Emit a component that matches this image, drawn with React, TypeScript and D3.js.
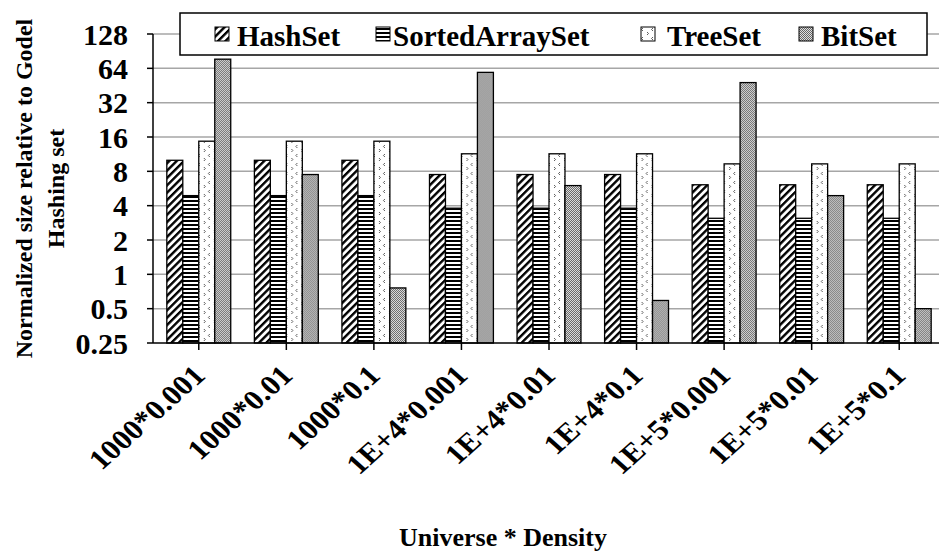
import React from "react";
import * as d3 from "d3";

const categories = [
  "1000*0.001",
  "1000*0.01",
  "1000*0.1",
  "1E+4*0.001",
  "1E+4*0.01",
  "1E+4*0.1",
  "1E+5*0.001",
  "1E+5*0.01",
  "1E+5*0.1",
];
const seriesNames = ["HashSet", "SortedArraySet", "TreeSet", "BitSet"];
const hashSet = [10, 10, 10, 7.5, 7.5, 7.5, 6.1, 6.1, 6.1];
const sortedArraySet = [4.9, 4.9, 4.9, 3.8, 3.8, 3.8, 3.1, 3.1, 3.1];
const treeSet = [14.7, 14.7, 14.7, 11.4, 11.4, 11.4, 9.3, 9.3, 9.3];
const bitSet = [77, 7.5, 0.76, 59, 6.0, 0.59, 48, 4.9, 0.5];
const yTicks = [0.25, 0.5, 1, 2, 4, 8, 16, 32, 64, 128];

const width = 939;
const height = 553;
const margin = { top: 34, left: 153, bottom: 343, right: 943 };
const font = "'Liberation Serif', 'Times New Roman', serif";
const patternIds = ["pHash", "pSorted", "pTree", "pBit"];

const App = () => {
  const values = [hashSet, sortedArraySet, treeSet, bitSet];

  const x = d3
    .scaleBand()
    .domain(categories)
    .range([margin.left + 2, margin.right])
    .paddingInner(0.27)
    .paddingOuter(0.135);

  const xInner = d3
    .scaleBand()
    .domain(seriesNames)
    .range([0, x.bandwidth()]);

  const y = d3
    .scaleLog()
    .base(2)
    .domain([0.25, 128])
    .range([margin.bottom, margin.top]);

  // legend layout (swatch x, text x)
  const legendItems = [
    { sx: 215, tx: 237 },
    { sx: 376, tx: 393 },
    { sx: 641, tx: 667 },
    { sx: 799, tx: 821 },
  ];

  return (
    <svg
      width={width}
      height={height}
      style={{ position: "absolute", left: 0, top: 0, background: "#fff" }}
      fontFamily={font}
      fontWeight="bold"
    >
      <defs>
        <pattern id="pHash" patternUnits="userSpaceOnUse" width={5.2} height={10} patternTransform="rotate(45)">
          <rect width={5.2} height={10} fill="#fff" />
          <rect width={2.4} height={10} fill="#000" />
        </pattern>
        <pattern id="pSorted" patternUnits="userSpaceOnUse" width={10} height={4}>
          <rect width={10} height={4} fill="#fff" />
          <rect width={10} height={2} fill="#000" />
        </pattern>
        <pattern id="pTree" patternUnits="userSpaceOnUse" width={10} height={9}>
          <rect width={10} height={9} fill="#fff" />
          <path d="M3,1 L1.5,2.5 L3,4" fill="none" stroke="#333" strokeWidth={0.8} />
          <path d="M7,5 L8.5,6.5 L7,8" fill="none" stroke="#333" strokeWidth={0.8} />
        </pattern>
        <pattern id="pBit" patternUnits="userSpaceOnUse" width={2} height={2}>
          <rect width={2} height={2} fill="#e0e0e0" />
          <rect width={1} height={1} fill="#666" />
          <rect x={1} y={1} width={1} height={1} fill="#666" />
        </pattern>
      </defs>

      {/* gridlines */}
      {yTicks.slice(1).map((t) => (
        <line
          key={t}
          x1={margin.left}
          x2={width}
          y1={y(t)}
          y2={y(t)}
          stroke="#a6a6a6"
          strokeWidth={1.5}
        />
      ))}

      {/* bars */}
      {categories.map((c, i) => (
        <g key={c} transform={`translate(${x(c)},0)`}>
          {seriesNames.map((s, j) => (
            <rect
              key={s}
              x={xInner(s)}
              y={y(values[j][i])}
              width={xInner.bandwidth()}
              height={y(0.25) - y(values[j][i])}
              fill={`url(#${patternIds[j]})`}
              stroke="#000"
              strokeWidth={1.3}
            />
          ))}
        </g>
      ))}

      {/* y axis */}
      <line x1={margin.left} x2={margin.left} y1={margin.top} y2={margin.bottom} stroke="#000" strokeWidth={1.5} />
      {yTicks.map((t) => (
        <g key={t} transform={`translate(0,${y(t)})`}>
          <line x1={margin.left - 6} x2={margin.left} stroke="#000" strokeWidth={1.5} />
          <text x={128} dy="0.35em" textAnchor="end" fontSize={30}>
            {t}
          </text>
        </g>
      ))}

      {/* x axis */}
      <line x1={margin.left} x2={width} y1={margin.bottom} y2={margin.bottom} stroke="#000" strokeWidth={1.5} />
      {categories.map((c) => {
        const cx = (x(c) as number) + x.bandwidth() / 2;
        return (
          <g key={c}>
            <line x1={cx} x2={cx} y1={margin.bottom} y2={margin.bottom + 7} stroke="#000" strokeWidth={1.5} />
            <text
              transform={`translate(${cx + 8},${margin.bottom + 34}) scale(1.12,1) rotate(-45)`}
              textAnchor="end"
              fontSize={28}
            >
              {c}
            </text>
          </g>
        );
      })}

      {/* axis titles */}
      <text
        transform={`translate(32,${(margin.top + margin.bottom) / 2}) rotate(-90)`}
        textAnchor="middle"
        fontSize={24}
      >
        Normalized size relative to Godel
      </text>
      <text
        transform={`translate(64,${(margin.top + margin.bottom) / 2}) rotate(-90)`}
        textAnchor="middle"
        fontSize={24}
      >
        Hashing set
      </text>
      <text x={503} y={546} textAnchor="middle" fontSize={26}>
        Universe * Density
      </text>

      {/* legend */}
      <rect x={180} y={13} width={747} height={42} fill="#fff" stroke="#000" strokeWidth={1.5} />
      {seriesNames.map((s, j) => (
        <g key={s}>
          <rect
            x={legendItems[j].sx}
            y={27}
            width={14}
            height={14}
            fill={`url(#${patternIds[j]})`}
            stroke="#000"
            strokeWidth={1}
          />
          <text x={legendItems[j].tx} y={46} fontSize={29}>
            {s}
          </text>
        </g>
      ))}
    </svg>
  );
};

export default App;
